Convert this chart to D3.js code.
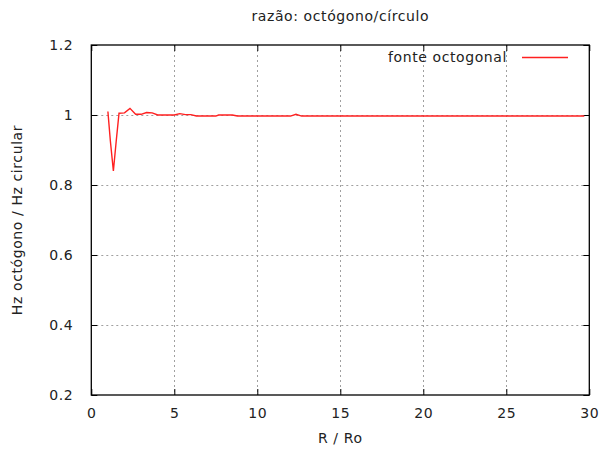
<!DOCTYPE html>
<html>
<head>
<meta charset="utf-8">
<script src="https://cdn.jsdelivr.net/npm/d3@7"></script>
<style>
  body { margin: 0; background: #fff; }
  text { font-family: "DejaVu Sans", sans-serif; font-size: 14px; fill: #222; letter-spacing: 0.6px; }
</style>
</head>
<body>
<svg id="chart" width="599" height="449"></svg>
<script>
// R / Ro values and the frequency ratio
const rRo = [1.0, 1.15, 1.33, 1.5, 1.67, 2.0, 2.33, 2.67, 3.0, 3.33, 3.67, 4.0, 4.5, 5.0, 5.33, 5.67, 6.0, 6.33, 7.0, 7.5, 7.67, 8.0, 8.5, 8.8, 10, 11, 12, 12.33, 12.67, 14, 16, 18, 20, 22, 24, 26, 28, 29.7]
const ratio = [1.01, 0.925, 0.84, 0.925, 1.005, 1.006, 1.019, 1.002, 1.002, 1.007, 1.006, 1.0, 1.0, 1.0, 1.004, 1.001, 1.001, 0.997, 0.997, 0.997, 1.0, 1.0, 1.0, 0.997, 0.997, 0.997, 0.997, 1.002, 0.997, 0.997, 0.997, 0.997, 0.997, 0.997, 0.997, 0.997, 0.997, 0.997]

const xTicks = [0, 5, 10, 15, 20, 25, 30]
const yTicks = [0.2, 0.4, 0.6, 0.8, 1, 1.2]

const title = 'razão: octógono/círculo'
const xTitle = 'R / Ro'
const yTitle = 'Hz octógono / Hz circular'
const seriesName = 'fonte octogonal'

const LEFT = 91.3, RIGHT = 589.3, TOP = 45, BOTTOM = 395
const TICK = 6

const svg = d3.select('#chart')

const x = d3.scaleLinear().domain([0, 30]).range([LEFT, RIGHT])
const y = d3.scaleLinear().domain([0.2, 1.2]).range([BOTTOM, TOP])

// dotted grid
const grid = svg.append('g')
grid.selectAll('.gx')
  .data(xTicks.slice(1, -1))
  .join('line')
  .attr('x1', d => Math.round(x(d)) + 0.5).attr('x2', d => Math.round(x(d)) + 0.5)
  .attr('y1', TOP).attr('y2', BOTTOM)
  .attr('stroke', '#a0a0a0').attr('stroke-dasharray', '2,3')
grid.selectAll('.gy')
  .data(yTicks.slice(1, -1))
  .join('line')
  .attr('x1', LEFT).attr('x2', RIGHT)
  .attr('y1', d => Math.round(y(d)) + 0.5).attr('y2', d => Math.round(y(d)) + 0.5)
  .attr('stroke', '#a0a0a0').attr('stroke-dasharray', '2,3')

// axes with inward ticks, mirrored on opposite sides
const fmt = d => d3.format('~g')(d)
svg.append('g')
  .attr('transform', `translate(0,${BOTTOM})`)
  .call(d3.axisBottom(x).tickValues(xTicks).tickSizeInner(-TICK).tickSizeOuter(0).tickPadding(13).tickFormat(fmt))
svg.append('g')
  .attr('transform', `translate(0,${TOP})`)
  .call(d3.axisTop(x).tickValues(xTicks).tickSizeInner(-TICK).tickSizeOuter(0).tickFormat(''))
svg.append('g')
  .attr('transform', `translate(${LEFT},0)`)
  .call(d3.axisLeft(y).tickValues(yTicks).tickSizeInner(-TICK).tickSizeOuter(0).tickPadding(18).tickFormat(fmt))
svg.append('g')
  .attr('transform', `translate(${RIGHT},0)`)
  .call(d3.axisRight(y).tickValues(yTicks).tickSizeInner(-TICK).tickSizeOuter(0).tickFormat(''))

svg.selectAll('.domain').remove()
svg.selectAll('.tick line').attr('stroke', '#000')
svg.selectAll('.tick text').style('font-size', '14px').attr('fill', '#222')

svg.append('rect')
  .attr('x', LEFT).attr('y', TOP)
  .attr('width', RIGHT - LEFT).attr('height', BOTTOM - TOP)
  .attr('fill', 'none').attr('stroke', '#000').attr('stroke-width', 1.3)

// the series
svg.append('path')
  .datum(rRo.map((r, i) => [r, ratio[i]]))
  .attr('fill', 'none')
  .attr('stroke', '#ff2020')
  .attr('stroke-width', 1.4)
  .attr('d', d3.line().x(d => x(d[0])).y(d => y(d[1])))

// legend
svg.append('text')
  .attr('x', 507).attr('y', 62)
  .attr('text-anchor', 'end')
  .text(seriesName)
svg.append('line')
  .attr('x1', 522).attr('x2', 568)
  .attr('y1', 57.5).attr('y2', 57.5)
  .attr('stroke', '#ff2020').attr('stroke-width', 1.4)

// titles
svg.append('text')
  .attr('x', (LEFT + RIGHT) / 2).attr('y', 21)
  .attr('text-anchor', 'middle')
  .text(title)
svg.append('text')
  .attr('x', (LEFT + RIGHT) / 2).attr('y', 443)
  .attr('text-anchor', 'middle')
  .text(xTitle)
svg.append('text')
  .attr('transform', `translate(22, ${(TOP + BOTTOM) / 2}) rotate(-90)`)
  .attr('text-anchor', 'middle')
  .text(yTitle)
</script>
</body>
</html>
